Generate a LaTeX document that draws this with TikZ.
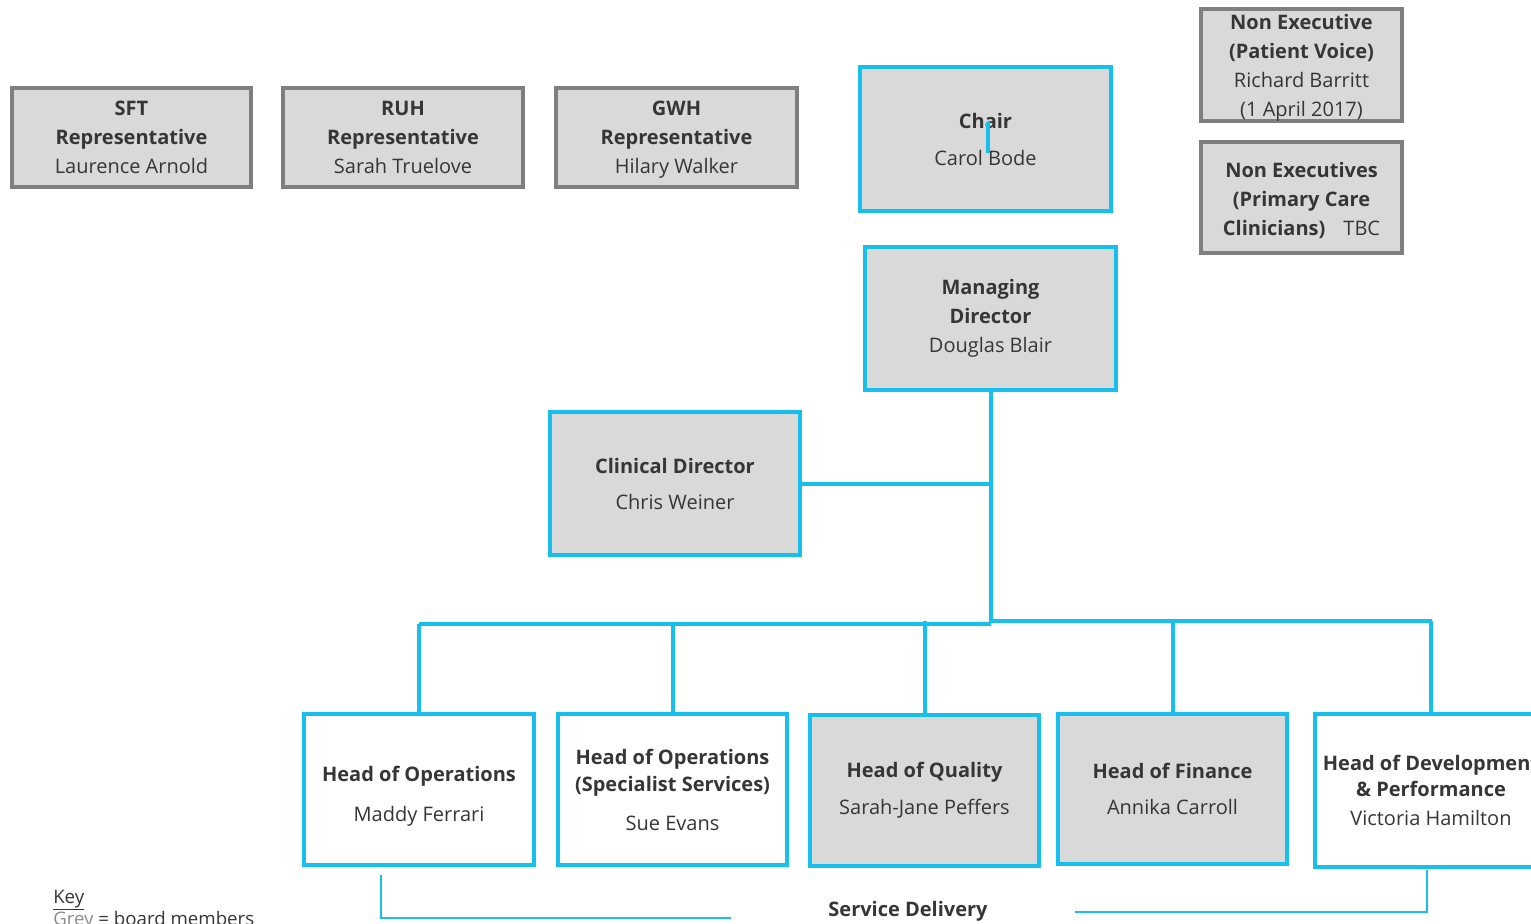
\documentclass[tikz,border=0pt]{standalone}
\usepackage{fontspec}
\setmainfont{Open Sans}
\definecolor{cy}{HTML}{17BFEF}
\definecolor{gedge}{HTML}{7F7F7F}
\definecolor{bfill}{HTML}{D9D9D9}
\definecolor{txt}{HTML}{363636}
\definecolor{keygrey}{HTML}{8C8C8C}
\newcommand\hd[1]{\textbf{#1}}
\tikzset{
  basebox/.style={line width=3pt, inner sep=0pt, align=center, text=txt,
    font=\fontsize{15}{21.75}\selectfont},
  gbox/.style={basebox, draw=gedge, fill=bfill},
  cgbox/.style={basebox, draw=cy, fill=bfill},
  cwbox/.style={basebox, draw=cy, fill=white},
  conn/.style={draw=cy, line width=3pt},
  thinconn/.style={draw=cy, line width=1.5pt},
  plain/.style={text=txt, inner sep=0pt, align=center, font=\fontsize{15}{21.75}\selectfont},
}
\begin{document}
\begin{tikzpicture}[x=0.75pt, y=-0.75pt]
\clip (0,0) rectangle (1531,924);
\fill[white] (0,0) rectangle (1531,924);

% top row grey representatives
\node[gbox, minimum width={239*0.75pt}, minimum height={99*0.75pt}] (sft) at (131.5,137.5) {};
\node[plain] (sftt) at (131.5,142) {\hd{SFT}\\\hd{Representative}\\Laurence Arnold\strut};
\node[gbox, minimum width={240*0.75pt}, minimum height={99*0.75pt}] (ruh) at (403,137.5) {};
\node[plain] (ruht) at (403,142) {\hd{RUH}\\\hd{Representative}\\Sarah Truelove\strut};
\node[gbox, minimum width={241*0.75pt}, minimum height={99*0.75pt}] (gwh) at (676.5,137.5) {};
\node[plain] (gwht) at (676.5,142) {\hd{GWH}\\\hd{Representative}\\Hilary Walker\strut};

% chair
\node[cgbox, minimum width={251*0.75pt}, minimum height={144*0.75pt}] (chair) at (985.5,139)
  {\hd{Chair}\\[6pt]Carol Bode};
\draw[draw=cy, line width=2.4pt] (988,122) -- (988,153);

% non executives
\node[gbox, minimum width={201*0.75pt}, minimum height={112*0.75pt}] (pv) at (1301.5,65) {};
\node[plain] (pvt) at (1301.5,68)
  {\hd{Non Executive}\\\hd{(Patient Voice)}\\Richard Barritt\\(1 April 2017)};
\node[gbox, minimum width={201*0.75pt}, minimum height={111*0.75pt}] (pc) at (1301.5,197.5) {};
\node[plain] (pct) at (1301.5,200)
  {\hd{Non Executives}\\\hd{(Primary Care}\\\hd{Clinicians)}\hspace{0.9em}TBC};

% managing director
\node[cgbox, minimum width={251*0.75pt}, minimum height={143*0.75pt}] (md) at (990.5,318.5)
  {\hd{Managing}\\\hd{Director}\\Douglas Blair};

% clinical director
\node[cgbox, minimum width={250*0.75pt}, minimum height={143*0.75pt}] (cd) at (675,483.5)
  {\hd{Clinical Director}\\[5.25pt]Chris Weiner};

% bottom row
\node[cwbox, minimum width={230*0.75pt}, minimum height={151*0.75pt}] (hoo) at (419,789.5) {};
\node[plain] (hoot) at (419,796) {\hd{Head of Operations}\\[8pt]Maddy Ferrari};
\node[cwbox, minimum width={229*0.75pt}, minimum height={151*0.75pt}] (hoos) at (672.5,789.5)
  {\hd{Head of Operations}\\[-1.5pt]\hd{(Specialist Services)}\\[7.5pt]Sue Evans};
\node[cgbox, minimum width={229*0.75pt}, minimum height={151*0.75pt}] (hoq) at (924.5,790.5)
  {\hd{Head of Quality}\\[6pt]Sarah-Jane Peffers};
\node[cgbox, minimum width={229*0.75pt}, minimum height={150*0.75pt}] (hof) at (1172.5,789)
  {\hd{Head of Finance}\\[5.25pt]Annika Carroll};
\node[cwbox, minimum width={232*0.75pt}, minimum height={153*0.75pt}] (hod) at (1431,790)
  {\hd{Head of Development}\\[-2.25pt]\hd{\& Performance}\\Victoria Hamilton};

% connectors
\coordinate (junc) at (991,622);
\coordinate (busL) at (419,624);
\coordinate (busR) at (1432,621);
\draw[conn] (md.south) -- (md.south |- junc);
\draw[conn] (cd.east) -- (cd.east -| md.south);
\draw[conn] (busL) -- (busL -| md.south);
\draw[conn] (busR -| md.south) -- (busR);
\draw[conn] (hoo.north) -- (hoo.north |- busL);
\draw[conn] (hoos.north) -- (hoos.north |- busL);
\draw[conn] (hoq.north) -- (hoq.north |- busR);
\draw[conn] (hof.north) -- (hof.north |- busR);
\draw[conn] (hod.north) -- (hod.north |- busR);

% service delivery bracket
\coordinate (sdL1) at (381,875);
\coordinate (sdL2) at (381,918);
\coordinate (sdL3) at (731,918);
\coordinate (sdR1) at (1427,870);
\coordinate (sdR2) at (1427,912);
\coordinate (sdR3) at (1075,912);
\draw[thinconn] (sdL1) -- (sdL2) -- (sdL3);
\draw[thinconn] (sdR1) -- (sdR2) -- (sdR3);
\node[plain, font=\fontsize{15}{21.75}\selectfont\bfseries] (sd) at (908,911) {Service Delivery};

% key
\node[plain, anchor=west, font=\fontsize{14}{18}\selectfont] (key) at (53,900) {\underline{Key}};
\node[plain, anchor=west, font=\fontsize{14}{18}\selectfont] (keygrey) at (53,922)
  {\textcolor{keygrey}{\underline{Grey}} = board members};
\end{tikzpicture}
\end{document}
